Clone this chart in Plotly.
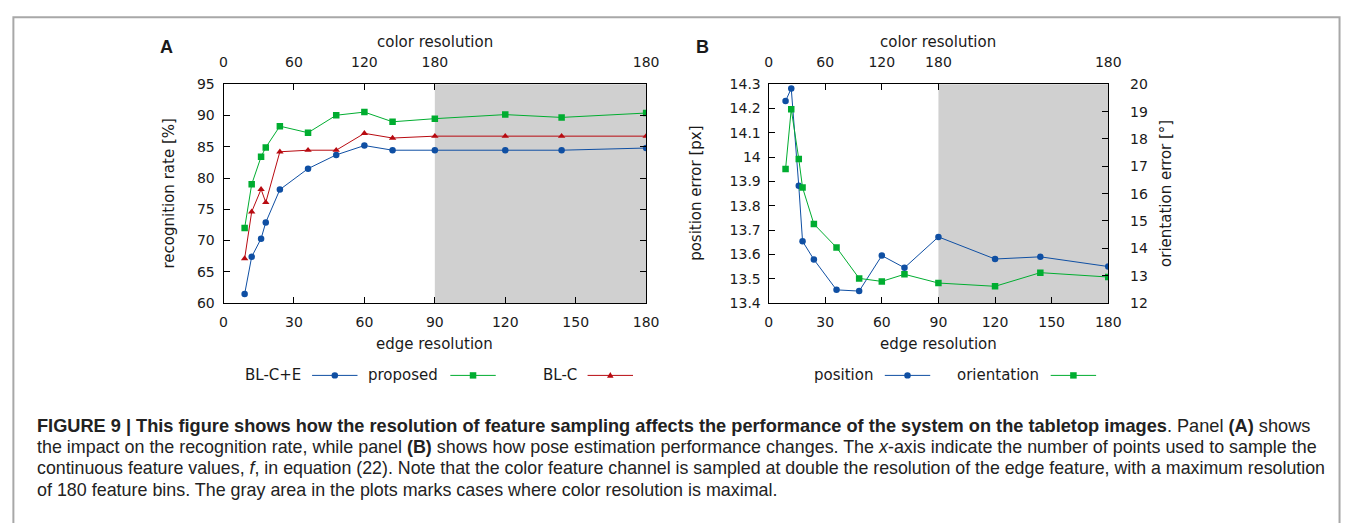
import plotly.graph_objects as go

W, H = 1355, 523

# ---------------- data ----------------
edge_res = [9, 12, 16, 18, 24, 36, 48, 60, 72, 90, 120, 144, 180]
bl_ce = [61.45, 67.4, 70.3, 72.9, 78.15, 81.5, 83.7, 85.2, 84.45, 84.45, 84.45, 84.45, 84.8]
proposed = [72.0, 79.0, 83.4, 84.9, 88.3, 87.25, 90.05, 90.55, 89.0, 89.5, 90.15, 89.7, 90.4]
bl_c = [67.1, 74.6, 78.2, 76.1, 84.2, 84.45, 84.45, 87.15, 86.4, 86.7, 86.7, 86.7, 86.7]
position_err = [14.231, 14.283, 13.882, 13.654, 13.579, 13.454, 13.449, 13.595, 13.545, 13.672, 13.581, 13.590, 13.550]
orientation_err = [16.90, 19.09, 17.27, 16.22, 14.89, 14.03, 12.90, 12.79, 13.05, 12.73, 12.61, 13.11, 12.95]

edge_ticks = [0, 30, 60, 90, 120, 150, 180]
color_tick_pos = [0, 30, 60, 90, 180]
color_tick_text = ["0", "60", "120", "180", "180"]
gray_start, gray_end = 90, 180

BLUE = "#0f4fa3"
GREEN = "#00ad30"
RED = "#b80a10"
GRAY = "#d0d0d0"
FONT = "DejaVu Sans"
TXT = "#1a1a1a"


def px(x):
    return x / W


def py(y):
    return 1 - y / H


# plot areas (pixels)
A_L, A_R, TOP, BOT = 222.3, 650.3, 78.7, 304.3
B_L, B_R = 774.3, 1118.3

fig = go.Figure()

MS = 6.5
fig.add_trace(go.Scatter(x=edge_res, y=bl_ce, mode="lines+markers", xaxis="x", yaxis="y",
                         line=dict(color=BLUE, width=1), marker=dict(symbol="circle", size=MS, color=BLUE),
                         showlegend=False))
fig.add_trace(go.Scatter(x=edge_res, y=proposed, mode="lines+markers", xaxis="x", yaxis="y",
                         line=dict(color=GREEN, width=1), marker=dict(symbol="square", size=MS, color=GREEN),
                         showlegend=False))
fig.add_trace(go.Scatter(x=edge_res, y=bl_c, mode="lines+markers", xaxis="x", yaxis="y",
                         line=dict(color=RED, width=1), marker=dict(symbol="triangle-up", size=MS, color=RED),
                         showlegend=False))
fig.add_trace(go.Scatter(x=edge_res, y=position_err, mode="lines+markers", xaxis="x2", yaxis="y2",
                         line=dict(color=BLUE, width=1), marker=dict(symbol="circle", size=MS, color=BLUE),
                         showlegend=False))
fig.add_trace(go.Scatter(x=edge_res, y=orientation_err, mode="lines+markers", xaxis="x2", yaxis="y4",
                         line=dict(color=GREEN, width=1), marker=dict(symbol="square", size=MS, color=GREEN),
                         showlegend=False))
# invisible helpers so the top axes are drawn
fig.add_trace(go.Scatter(x=[0, 180], y=[None, None], xaxis="x3", yaxis="y", showlegend=False, hoverinfo="skip"))
fig.add_trace(go.Scatter(x=[0, 180], y=[None, None], xaxis="x4", yaxis="y2", showlegend=False, hoverinfo="skip"))

tickfont = dict(family=FONT, size=14, color=TXT)
common_axis = dict(showgrid=False, zeroline=False, showline=True, linecolor="black", linewidth=1,
                   ticks="inside", ticklen=6, tickcolor="black", tickfont=tickfont)

fig.update_layout(
    width=W, height=H, margin=dict(l=0, r=0, t=0, b=0),
    paper_bgcolor="white", plot_bgcolor="white",
    xaxis=dict(domain=[px(A_L), px(A_R)], range=[0, 180], tickvals=edge_ticks, anchor="y",
               ticklabelstandoff=6, **common_axis),
    yaxis=dict(domain=[py(BOT), py(TOP)], range=[60, 95], dtick=5, anchor="x", mirror="ticks",
               ticklabelstandoff=5, **common_axis),
    xaxis3=dict(overlaying="x", side="top", anchor="y", range=[0, 180], tickvals=color_tick_pos,
                ticktext=color_tick_text, ticklabelstandoff=11, **common_axis),
    xaxis2=dict(domain=[px(B_L), px(B_R)], range=[0, 180], tickvals=edge_ticks, anchor="y2",
                ticklabelstandoff=6, **common_axis),
    yaxis2=dict(domain=[py(BOT), py(TOP)], range=[13.4, 14.3], dtick=0.1, anchor="x2",
                ticklabelstandoff=4, **common_axis),
    yaxis4=dict(overlaying="y2", side="right", anchor="x2", range=[12, 20], dtick=1,
                ticklabelstandoff=18, **common_axis),
    xaxis4=dict(overlaying="x2", side="top", anchor="y2", range=[0, 180], tickvals=color_tick_pos,
                ticktext=color_tick_text, ticklabelstandoff=11, **common_axis),
)

shapes = []
# gray areas
shapes.append(dict(type="rect", xref="x", yref="y domain", x0=gray_start, x1=gray_end, y0=0, y1=1,
                   fillcolor=GRAY, line=dict(width=0), layer="below"))
shapes.append(dict(type="rect", xref="x2", yref="y2 domain", x0=gray_start, x1=gray_end, y0=0, y1=1,
                   fillcolor=GRAY, line=dict(width=0), layer="below"))
# outer frame
shapes.append(dict(type="rect", xref="paper", yref="paper", x0=px(9.5), x1=px(1352.5), y0=-0.2, y1=py(9.5),
                   line=dict(color="#a8a8a8", width=2), fillcolor="rgba(0,0,0,0)"))

annotations = []


def ann(text, x, y, size=15, xanchor="center", angle=0, family=FONT, color=TXT):
    annotations.append(dict(text=text, x=px(x), y=py(y), xref="paper", yref="paper", showarrow=False,
                            xanchor=xanchor, yanchor="middle", textangle=angle,
                            font=dict(family=family, size=size, color=color)))


# panel letters
ann("<b>A</b>", 165, 40, size=18, family="Liberation Sans")
ann("<b>B</b>", 707, 40, size=18, family="Liberation Sans")
# axis titles
ann("color resolution", (A_L + A_R) / 2, 35)
ann("color resolution", (B_L + B_R) / 2, 35)
ann("edge resolution", (A_L + A_R) / 2, 347)
ann("edge resolution", (B_L + B_R) / 2, 347)
ann("recognition rate [%]", 167, (TOP + BOT) / 2, angle=-90)
ann("position error [px]", 700, (TOP + BOT) / 2, angle=-90)
ann("orientation error [°]", 1176, (TOP + BOT) / 2, angle=-90)

# manual legends: (label, text_end_x, line_x0, line_x1, color, symbol)
LEG_Y = 379
legend_items = [
    ("BL-C+E", 303, 312, 358, BLUE, "circle"),
    ("proposed", 442, 452, 498, GREEN, "square"),
    ("BL-C", 582, 591, 637, RED, "triangle"),
    ("position", 882, 892, 938, BLUE, "circle"),
    ("orientation", 1050, 1060, 1106, GREEN, "square"),
]
for label, tx, l0, l1, col, sym in legend_items:
    ann(label, tx, LEG_Y, xanchor="right")
    shapes.append(dict(type="line", xref="paper", yref="paper", x0=px(l0), x1=px(l1), y0=py(LEG_Y), y1=py(LEG_Y),
                       line=dict(color=col, width=1)))
    cx = (l0 + l1) / 2
    r = 3.3
    if sym == "circle":
        shapes.append(dict(type="circle", xref="paper", yref="paper", x0=px(cx - r), x1=px(cx + r),
                           y0=py(LEG_Y + r), y1=py(LEG_Y - r), fillcolor=col, line=dict(color=col, width=0)))
    elif sym == "square":
        shapes.append(dict(type="rect", xref="paper", yref="paper", x0=px(cx - r), x1=px(cx + r),
                           y0=py(LEG_Y + r), y1=py(LEG_Y - r), fillcolor=col, line=dict(color=col, width=0)))
    else:
        path = f"M {px(cx - r)} {py(LEG_Y + 2.5)} L {px(cx + r)} {py(LEG_Y + 2.5)} L {px(cx)} {py(LEG_Y - 3.5)} Z"
        shapes.append(dict(type="path", xref="paper", yref="paper", path=path, fillcolor=col,
                           line=dict(color=col, width=0)))

# caption
CAP_FONT = "Liberation Sans"
cap_lines = [
    "<b>FIGURE 9 | This figure shows how the resolution of feature sampling affects the performance of the system on the tabletop images</b>. Panel <b>(A)</b> shows",
    "the impact on the recognition rate, while panel <b>(B)</b> shows how pose estimation performance changes. The <i>x</i>-axis indicate the number of points used to sample the",
    "continuous feature values, <i>f</i>, in equation (22). Note that the color feature channel is sampled at double the resolution of the edge feature, with a maximum resolution",
    "of 180 feature bins. The gray area in the plots marks cases where color resolution is maximal.",
]
cap_sizes = [18.2, 17.9, 17.8, 17.9]
cap_y = [431, 453, 475, 497]
for line, yy, sz in zip(cap_lines, cap_y, cap_sizes):
    ann(line, 31, yy, size=sz, xanchor="left", family=CAP_FONT, color="#222222")

fig.update_layout(shapes=shapes, annotations=annotations)

fig.write_html("out.html")
